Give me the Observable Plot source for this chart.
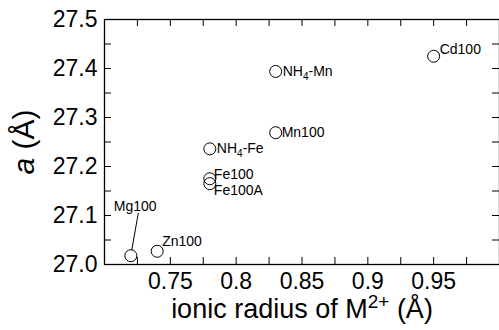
<!DOCTYPE html>
<html><head><meta charset="utf-8">
<script src="https://cdn.jsdelivr.net/npm/d3@7"></script>
<script src="https://cdn.jsdelivr.net/npm/@observablehq/plot@0.6"></script>
<style>body{margin:0;background:#fff} svg{display:block}</style>
</head><body><div id="chart"></div>
<script>
const samples = ["Mg100", "Zn100", "Fe100", "Fe100A", "NH4-Fe", "Mn100", "NH4-Mn", "Cd100"];
const ionicRadius = [0.72, 0.74, 0.78, 0.78, 0.78, 0.83, 0.83, 0.95];
const latticeA = [27.018, 27.027, 27.175, 27.165, 27.236, 27.269, 27.394, 27.425];
const xTickLabels = [0.75, 0.8, 0.85, 0.9, 0.95];
const yTickLabels = [27.0, 27.1, 27.2, 27.3, 27.4, 27.5];
const xTitle = "ionic radius of M2+ (Å)";
const yTitle = "a (Å)";

const data = samples.map((s, i) => ({sample: s, r: ionicRadius[i], a: latticeA[i]}));
const xTicks = d3.range(0, 13).map(i => +(0.7 + i * 0.025).toFixed(3));
const yTicks = d3.range(0, 11).map(i => +(27 + i * 0.05).toFixed(2));

const W = 499, H = 330, mL = 104, mR = 0, mT = 19, mB = 66;
const fw = W - mL - mR, fh = H - mT - mB, tl = 7;
const font = "'Liberation Sans', Arial, Helvetica, sans-serif";

const labelOffsets = {
  "Cd100": [6, -7], "NH4-Mn": [7, 0], "Mn100": [6, 0], "NH4-Fe": [7, 0],
  "Fe100": [4, -4], "Fe100A": [4, 7], "Zn100": [5, -10], "Mg100": [-17, -49]
};

const plot = Plot.plot({
  width: W, height: H,
  marginLeft: mL, marginRight: mR, marginTop: mT, marginBottom: mB,
  style: {fontFamily: font, color: "black", background: "white", overflow: "visible"},
  x: {domain: [0.7, 1.0]},
  y: {domain: [27.0, 27.5]},
  marks: [
    Plot.ruleX(xTicks, {x: d => d, insetTop: fh - tl, stroke: "black"}),
    Plot.ruleX(xTicks, {x: d => d, insetBottom: fh - tl, stroke: "black"}),
    Plot.ruleY(yTicks, {y: d => d, insetRight: fw - tl, stroke: "black"}),
    Plot.ruleY(yTicks, {y: d => d, insetLeft: fw - tl, stroke: "black"}),
    Plot.frame({stroke: "black", strokeWidth: 1.3}),
    Plot.dot(data, {x: "r", y: "a", r: 6, stroke: "black", strokeWidth: 1, fill: "none"}),
    ...Object.entries(labelOffsets).map(([name, [dx, dy]]) =>
      Plot.text(data, {filter: d => d.sample === name, x: "r", y: "a", text: "sample",
        dx, dy, textAnchor: "start", fontSize: 14, fill: "black"})),
    Plot.vector(data, {filter: d => d.sample === "Mg100", x: "r", y: "a",
      length: 37, rotate: 10, anchor: "start", dx: 1, dy: -6, stroke: "black", strokeWidth: 1,
      shape: {draw(ctx, l) { ctx.moveTo(0, 0); ctx.lineTo(0, -l); }}}),
    Plot.axisX({ticks: xTickLabels, tickFormat: "~g", tickSize: 0, tickPadding: 8, fontSize: 23, label: null}),
    Plot.axisY({ticks: yTickLabels, tickFormat: ".1f", tickSize: 0, tickPadding: 7, fontSize: 23, label: null}),
    Plot.text([xTitle], {frameAnchor: "bottom", text: d => d, textAnchor: "middle", lineAnchor: "middle",
      dy: 45, fontSize: 27, fill: "black"}),
    Plot.text([yTitle], {frameAnchor: "left", text: d => d, rotate: -90, textAnchor: "middle", lineAnchor: "middle",
      dx: -80, dy: 0, fontSize: 30, fill: "black"})
  ]
});

plot.querySelectorAll("text").forEach(t => {
  const s = t.textContent;
  if (s === "NH4-Mn" || s === "NH4-Fe") {
    t.innerHTML = `NH<tspan dy="4" font-size="10">4</tspan><tspan dy="-4">${s.slice(3)}</tspan>`;
  } else if (s === xTitle) {
    t.innerHTML = `ionic radius of M<tspan dy="-10" font-size="19">2+</tspan><tspan dy="10"> (Å)</tspan>`;
  } else if (s === yTitle) {
    t.innerHTML = `<tspan font-style="italic">a</tspan> (Å)`;
  }
});
document.getElementById("chart").appendChild(plot);
</script>
</body></html>
